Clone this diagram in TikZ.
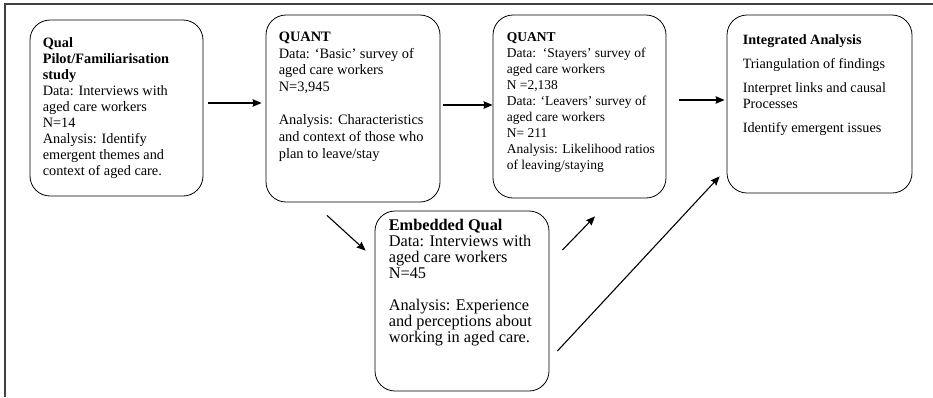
\documentclass[tikz,border=0pt]{standalone}
\usepackage{fontspec}
\setmainfont{Liberation Serif}
\usetikzlibrary{arrows.meta}
\tikzstyle{stageBox}=[draw,rounded corners=20pt,line width=0.8pt,inner sep=0pt]
\tikzstyle{stageText}=[anchor=north west,align=left,inner sep=0pt,font=\fontsize{14.3}{16}\selectfont]
\tikzstyle{flow}=[-{Stealth[length=9pt,width=7.5pt,inset=1pt]}, line width=1.1pt]

\begin{document}
\begin{tikzpicture}[x=1pt,y=-1pt]

    \useasboundingbox (0,0) rectangle (933,397);
    \draw[line width=1.3pt,black!75] (5,397) -- (5,4) -- (933,4);

    \node[stageBox,minimum width=173pt,minimum height=176pt] (qual) at (116.5,108) {};
    \node[stageBox,minimum width=174pt,minimum height=187pt] (quant) at (353,108.5) {};
    \node[stageBox,minimum width=173pt,minimum height=183pt] (stay) at (579.5,106.5) {};
    \node[stageBox,minimum width=185pt,minimum height=178pt] (integ) at (819.5,104) {};
    \node[stageBox,minimum width=174pt,minimum height=180pt] (embed) at (462,301) {};

    \node[stageText] (qualText) at ([xshift=13pt,yshift=-18pt]qual.north west)
        {\textbf{Qual}\\ \textbf{Pilot/Familiarisation}\\ \textbf{study}\\
         Data: Interviews with\\ aged care workers\\ N=14\\
         Analysis: Identify\\ emergent themes and\\ context of aged care.};
    \node[stageText,font=\fontsize{14.4}{16.7}\selectfont] (quantText) at ([xshift=13pt,yshift=-17pt]quant.north west)
        {\textbf{QUANT}\\ Data: ‘Basic’ survey of\\ aged care workers\\ N=3,945\\[16.7pt]
         Analysis: Characteristics\\ and context of those who\\ plan to leave/stay};
    \node[stageText,font=\fontsize{13.5}{16}\selectfont] (stayText) at ([xshift=14pt,yshift=-18pt]stay.north west)
        {\textbf{QUANT}\\ Data:\ \ ‘Stayers’ survey of\\ aged care workers\\ N =2,138\\
         Data: ‘Leavers’ survey of\\ aged care workers\\ N= 211\\
         Analysis: Likelihood ratios\\ of leaving/staying};
    \node[stageText,font=\fontsize{14.2}{16}\selectfont] (integText) at ([xshift=16pt,yshift=-20pt]integ.north west)
        {\textbf{Integrated Analysis}\\[8pt] Triangulation of findings\\[8pt]
         Interpret links and causal\\ Processes\\[8pt] Identify emergent issues};
    \node[stageText,font=\fontsize{16.3}{16}\selectfont] (embedText) at ([xshift=14pt,yshift=-8pt]embed.north west)
        {\textbf{Embedded Qual}\\ Data: Interviews with\\ aged care workers\\ N=45\\[16pt]
         Analysis: Experience\\ and perceptions about\\ working in aged care.};

    \draw[flow] ([xshift=5pt,yshift=5pt]qual.east) -- ([xshift=-4pt,yshift=5.5pt]quant.west);
    \draw[flow] ([xshift=3pt,yshift=3.5pt]quant.east) -- ([yshift=1.5pt]stay.west);
    \draw[flow] ([xshift=13pt,yshift=6.5pt]stay.east) -- ([xshift=-2pt,yshift=4pt]integ.west);

    \draw[flow] ([xshift=-26pt,yshift=-13pt]quant.south) -- ([xshift=-9pt,yshift=-40pt]embed.north west);
    \draw[flow] ([xshift=13pt,yshift=51pt]embed.east) -- ([xshift=15.5pt,yshift=-18pt]stay.south);
    \draw[flow] ([xshift=8pt,yshift=-50pt]embed.east) -- ([xshift=-7pt,yshift=17pt]integ.south west);

\end{tikzpicture}
\end{document}
